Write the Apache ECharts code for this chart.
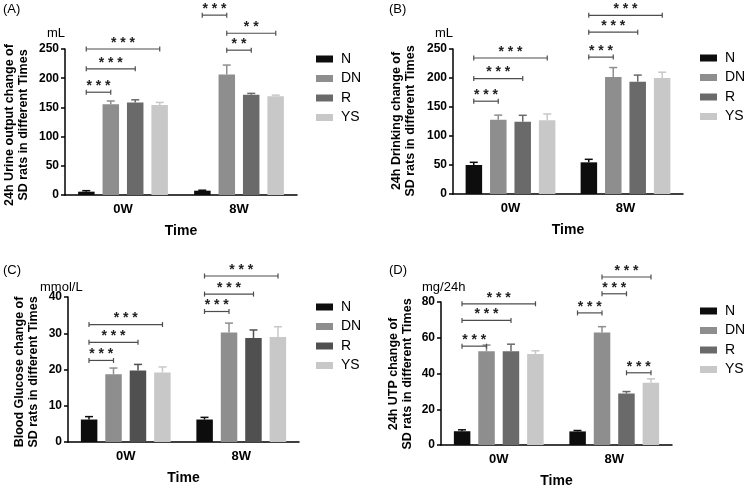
<!DOCTYPE html>
<html>
<head>
<meta charset="utf-8">
<style>
  html, body { margin: 0; padding: 0; background: #fff; }
  #chart { width: 745px; height: 489px; }
</style>
<script src="https://cdn.jsdelivr.net/npm/echarts@6/dist/echarts.min.js"></script>
</head>
<body>
<div id="chart"></div>
<script>
// 分组与时间点
const categories = ['0W', '8W']
const groups = ['N', 'DN', 'R', 'YS']

// (A) 24h 尿量 mL  —— 行: N, DN, R, YS；列: 0W, 8W
const urineMean = [[5.7, 7.4], [155.5, 206.5], [158.5, 171.5], [154, 169]]
const urineErr = [[1.7, 0.8], [5.5, 16], [4.5, 2.5], [4.5, 2]]
// [时间点, 起始组, 结束组, 高度, 标记]
const urineSig = [[0, 0, 1, 176, '***'], [0, 0, 2, 216, '***'], [0, 0, 3, 250, '***'],
  [1, 0, 1, 308, '***'], [1, 1, 2, 248, '**'], [1, 1, 3, 277, '**']]

// (B) 24h 饮水量 mL
const drinkMean = [[50, 54.6], [128, 201.7], [124.7, 193.7], [127, 200]]
const drinkErr = [[4.6, 5.2], [8, 16.3], [11, 11.3], [11, 10]]
const drinkSig = [[0, 0, 1, 160, '***'], [0, 0, 2, 199, '***'], [0, 0, 3, 234.5, '***'],
  [1, 0, 1, 236, '***'], [1, 0, 2, 279, '***'], [1, 0, 3, 308, '***']]

// (C) 血糖 mmol/L
const glucoseMean = [[6.2, 6.2], [18.7, 30.2], [19.7, 28.7], [19.2, 29]]
const glucoseErr = [[0.8, 0.6], [1.7, 2.6], [1.7, 2.2], [1.5, 2.8]]
const glucoseSig = [[0, 0, 1, 22.5, '***'], [0, 0, 2, 27.5, '***'], [0, 0, 3, 32.4, '***'],
  [1, 0, 1, 36, '***'], [1, 0, 2, 40.8, '***'], [1, 0, 3, 45.8, '***']]

// (D) 24h UTP mg/24h
const utpMean = [[7.7, 7.6], [52.4, 62.9], [52.4, 28.8], [50.9, 34.8]]
const utpErr = [[0.8, 0.5], [3.5, 3.3], [4, 1.1], [1.8, 2.2]]
const utpSig = [[0, 0, 1, 55.3, '***'], [0, 0, 2, 69.7, '***'], [0, 0, 3, 79, '***'],
  [1, 0, 1, 73.9, '***'], [1, 1, 2, 84.6, '***'], [1, 1, 3, 94, '***'], [1, 2, 3, 40.4, '***']]

// y 轴刻度
const yMax = [250, 250, 40, 80]
const yStep = [50, 50, 10, 20]

const FONT = 'Liberation Sans, Arial, sans-serif'
const BAR_W = 16.5
const BAR_STEP = 24.5

// 面板布局
const panels = [
  { mean: urineMean, err: urineErr, sig: urineSig, grid: { left: 65, top: 49, width: 232, height: 146 },
    colors: ['#0d0d0d', '#8e8e8e', '#6a6a6a', '#c8c8c8'], legend: { left: 316, top: 52 },
    label: '(A)', labelPos: [3, 9], unit: 'mL', unitPos: [47, 33],
    title: '24h Urine output change of\nSD rats in different Times', titlePos: [17, 125] },
  { mean: drinkMean, err: drinkErr, sig: drinkSig, grid: { left: 453, top: 49, width: 230, height: 145 },
    colors: ['#0d0d0d', '#8e8e8e', '#6a6a6a', '#c8c8c8'], legend: { left: 700, top: 51 },
    label: '(B)', labelPos: [389, 9], unit: 'mL', unitPos: [435, 33],
    title: '24h Drinking change of\nSD rats in different Times', titlePos: [404, 121] },
  { mean: glucoseMean, err: glucoseErr, sig: glucoseSig, grid: { left: 68, top: 297, width: 231, height: 145 },
    colors: ['#0d0d0d', '#8e8e8e', '#505050', '#c8c8c8'], legend: { left: 316, top: 300 },
    label: '(C)', labelPos: [3, 270], unit: 'mmol/L', unitPos: [40, 287],
    title: 'Blood Glucose change of\nSD rats in different Times', titlePos: [27, 372] },
  { mean: utpMean, err: utpErr, sig: utpSig, grid: { left: 441, top: 302, width: 231, height: 144 },
    colors: ['#0d0d0d', '#8e8e8e', '#6a6a6a', '#c8c8c8'], legend: { left: 700, top: 304 },
    label: '(D)', labelPos: [389, 270], unit: 'mg/24h', unitPos: [422, 287],
    title: '24h UTP change of\nSD rats in different Times', titlePos: [401, 374] }
]

const chart = echarts.init(document.getElementById('chart'), null, { renderer: 'canvas' })

const grid = [], xAxis = [], yAxis = [], series = [], legend = [], graphic = []

panels.forEach((p, pi) => {
  grid.push(p.grid)

  xAxis.push({
    type: 'category', gridIndex: pi, data: categories,
    name: 'Time', nameLocation: 'middle', nameGap: 29,
    nameTextStyle: { fontFamily: FONT, fontWeight: 'bold', fontSize: 14, color: '#000' },
    axisLine: { lineStyle: { color: '#000', width: 1.5 } },
    axisTick: { alignWithLabel: true, length: 4, lineStyle: { color: '#000', width: 1.5 } },
    axisLabel: { fontFamily: FONT, fontWeight: 'bold', fontSize: 13, color: '#000', margin: 8 }
  })

  yAxis.push({
    type: 'value', gridIndex: pi, min: 0, max: yMax[pi], interval: yStep[pi],
    axisLine: { show: true, lineStyle: { color: '#000', width: 1.5 } },
    axisTick: { show: true, length: 4, lineStyle: { color: '#000', width: 1.5 } },
    axisLabel: { fontFamily: FONT, fontWeight: 'bold', fontSize: 12, color: '#000', margin: 6 },
    splitLine: { show: false }
  })

  groups.forEach((g, gi) => {
    series.push({
      type: 'bar', name: g, xAxisIndex: pi, yAxisIndex: pi,
      data: p.mean[gi], barWidth: BAR_W, barGap: '48%',
      itemStyle: { color: p.colors[gi] },
      emphasis: { disabled: true }
    })
  })

  // 误差线
  const errData = []
  groups.forEach((g, gi) => {
    categories.forEach((c, ci) => errData.push([ci, gi, p.mean[gi][ci], p.err[gi][ci]]))
  })
  series.push({
    type: 'custom', xAxisIndex: pi, yAxisIndex: pi, z: 3,
    data: errData, encode: { x: 0, y: 2 },
    renderItem: (params, api) => {
      const ci = api.value(0), gi = api.value(1), m = api.value(2), e = api.value(3)
      const base = api.coord([ci, m])
      const top = api.coord([ci, m + e])[1]
      const x = base[0] + (gi - 1.5) * BAR_STEP
      const style = { stroke: p.colors[gi], lineWidth: 1.5 }
      return {
        type: 'group',
        children: [
          { type: 'line', shape: { x1: x, y1: base[1], x2: x, y2: top }, style },
          { type: 'line', shape: { x1: x - 4, y1: top, x2: x + 4, y2: top }, style }
        ]
      }
    }
  })

  // 显著性标记
  series.push({
    type: 'custom', xAxisIndex: pi, yAxisIndex: pi, z: 4, clip: false,
    data: p.sig.map(s => [s[0], s[1], s[2], s[3]]), encode: { x: 0, y: 3 },
    renderItem: (params, api) => {
      const ci = api.value(0), a = api.value(1), b = api.value(2), v = api.value(3)
      const pt = api.coord([ci, v])
      const x1 = pt[0] + (a - 1.5) * BAR_STEP
      const x2 = pt[0] + (b - 1.5) * BAR_STEP
      const y = pt[1]
      const stroke = { stroke: '#4d4d4d', lineWidth: 1.2 }
      const txt = p.sig[params.dataIndex][4].split('').join(' ')
      return {
        type: 'group',
        children: [
          { type: 'line', shape: { x1, y1: y, x2, y2: y }, style: stroke },
          { type: 'line', shape: { x1, y1: y - 2.5, x2: x1, y2: y + 2.5 }, style: stroke },
          { type: 'line', shape: { x1: x2, y1: y - 2.5, x2, y2: y + 2.5 }, style: stroke },
          { type: 'text', x: (x1 + x2) / 2, y: y + 1,
            style: { text: txt, fill: '#222', font: 'bold 14px ' + FONT, textAlign: 'center', textVerticalAlign: 'bottom' } }
        ]
      }
    }
  })

  legend.push({
    orient: 'vertical', left: p.legend.left, top: p.legend.top, padding: 0,
    itemWidth: 17, itemHeight: 7, itemGap: 5.5, icon: 'rect', selectedMode: false,
    textStyle: { fontFamily: FONT, fontSize: 14, color: '#000', lineHeight: 14, padding: [0, 0, 0, 3] },
    data: groups.map((g, gi) => ({ name: g, itemStyle: { color: p.colors[gi] } }))
  })

  graphic.push(
    { type: 'text', x: p.labelPos[0], y: p.labelPos[1],
      style: { text: p.label, font: '13px ' + FONT, fill: '#000', textVerticalAlign: 'middle' } },
    { type: 'text', x: p.unitPos[0], y: p.unitPos[1],
      style: { text: p.unit, font: '13px ' + FONT, fill: '#000', textVerticalAlign: 'middle' } },
    { type: 'text', x: p.titlePos[0], y: p.titlePos[1], rotation: Math.PI / 2,
      style: { text: p.title, font: 'bold 12.5px ' + FONT, fill: '#000', lineHeight: 14,
        textAlign: 'center', textVerticalAlign: 'middle' } }
  )
})

chart.setOption({
  animation: false,
  backgroundColor: '#fff',
  grid, xAxis, yAxis, series, legend, graphic
})
</script>
</body>
</html>
